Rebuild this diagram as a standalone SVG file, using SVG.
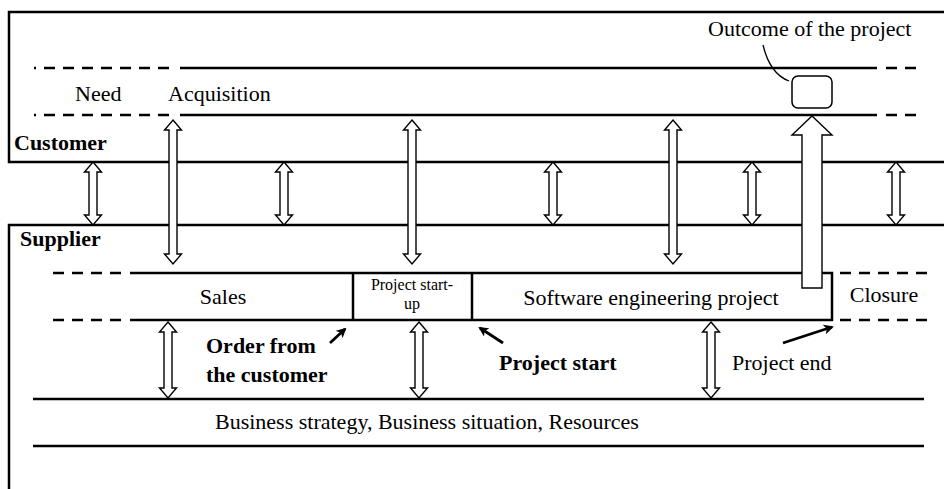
<svg xmlns="http://www.w3.org/2000/svg" width="944" height="489" viewBox="0 0 944 489">
<style>
.ln{stroke:#000;stroke-width:2.5;fill:none}
.ds{stroke:#000;stroke-width:2.5;fill:none;stroke-dasharray:11 8}
.da{fill:#fff;stroke:#000;stroke-width:1.4}
.t{font-family:"Liberation Serif","Times New Roman",serif;font-size:22px;fill:#000}
.b{font-weight:bold}
.sm{font-size:16px}
.pt{stroke:#000;stroke-width:2.8;fill:none}
</style>
<defs>
<marker id="ah" markerWidth="10" markerHeight="10" refX="8" refY="5" orient="auto" markerUnits="userSpaceOnUse">
<path d="M0,0 L10,5 L0,10 L2.5,5 Z" fill="#000"/>
</marker>
</defs>
<g id="customer">
<path class="ln" d="M946,12 H9 V162 H946"/>
<text class="t b" x="14" y="150">Customer</text>
</g>
<g id="customer-lane">
<path class="ds" d="M34,68 H172 M34,115 H172" stroke-dashoffset="9"/>
<path class="ln" d="M180,68 H877 M180,115 H877"/>
<path class="ds" d="M886,68 H918 M886,115 H918"/>
<text class="t" x="75" y="101">Need</text>
<text class="t" x="168" y="101">Acquisition</text>
</g>
<g id="outcome">
<text class="t" x="708" y="36">Outcome of the project</text>
<path d="M763,45 Q770,74 789,81" stroke="#000" stroke-width="1.3" fill="none"/>
<rect x="792" y="76" width="40" height="32" rx="6" fill="#fff" stroke="#000" stroke-width="1.5"/>
</g>
<g id="supplier">
<path class="ln" d="M946,225 H9 V491"/>
<text class="t b" x="20" y="246">Supplier</text>
</g>
<g id="phases">
<path class="ds" d="M53,273 H123 M53,320 H123"/>
<path class="ln" d="M130,273 H832 V320 H130 M353,273 V320 M472,273 V320"/>
<path class="ds" d="M840,273 H928 M840,320 H928"/>
<text class="t" x="223" y="304" text-anchor="middle">Sales</text>
<text class="t sm" x="412" y="290" text-anchor="middle">Project start-</text>
<text class="t sm" x="412" y="309" text-anchor="middle">up</text>
<text class="t" x="651" y="305" text-anchor="middle">Software engineering project</text>
<text class="t" x="884" y="302" text-anchor="middle">Closure</text>
</g>
<g id="business">
<path class="ln" d="M33,399 H924 M33,446 H924"/>
<text class="t" x="215" y="429">Business strategy, Business situation, Resources</text>
</g>
<g id="events">
<text class="t b" x="206" y="353">Order from</text>
<text class="t b" x="206" y="382">the customer</text>
<text class="t b" x="499" y="370">Project start</text>
<text class="t" x="732" y="370">Project end</text>
</g>
<g id="connectors">
<path class="pt" d="M330,343 L345,329" marker-end="url(#ah)"/>
<path class="pt" d="M503,343 L480,328" marker-end="url(#ah)"/>
<path class="pt" d="M783,343 L832,327" marker-end="url(#ah)"/>
<path class="da" d="M93,162 L101.5,172 L97,172 L97,215 L101.5,215 L93,225 L84.5,215 L89,215 L89,172 L84.5,172 Z"/>
<path class="da" d="M284,162 L292.5,172 L288,172 L288,215 L292.5,215 L284,225 L275.5,215 L280,215 L280,172 L275.5,172 Z"/>
<path class="da" d="M553,162 L561.5,172 L557,172 L557,215 L561.5,215 L553,225 L544.5,215 L549,215 L549,172 L544.5,172 Z"/>
<path class="da" d="M752,162 L760.5,172 L756,172 L756,215 L760.5,215 L752,225 L743.5,215 L748,215 L748,172 L743.5,172 Z"/>
<path class="da" d="M896,162 L904.5,172 L900,172 L900,215 L904.5,215 L896,225 L887.5,215 L892,215 L892,172 L887.5,172 Z"/>
<path class="da" d="M173,120 L181.5,130 L177,130 L177,254 L181.5,254 L173,264 L164.5,254 L169,254 L169,130 L164.5,130 Z"/>
<path class="da" d="M412,120 L420.5,130 L416,130 L416,254 L420.5,254 L412,264 L403.5,254 L408,254 L408,130 L403.5,130 Z"/>
<path class="da" d="M673,120 L681.5,130 L677,130 L677,254 L681.5,254 L673,264 L664.5,254 L669,254 L669,130 L664.5,130 Z"/>
<path class="da" d="M168,322 L176.5,332 L172,332 L172,388 L176.5,388 L168,398 L159.5,388 L164,388 L164,332 L159.5,332 Z"/>
<path class="da" d="M419,322 L427.5,332 L423,332 L423,388 L427.5,388 L419,398 L410.5,388 L415,388 L415,332 L410.5,332 Z"/>
<path class="da" d="M711,322 L719.5,332 L715,332 L715,388 L719.5,388 L711,398 L702.5,388 L707,388 L707,332 L702.5,332 Z"/>
<path class="da" d="M812,116 L832,135 L822,135 L822,288 L802,288 L802,135 L792,135 Z" stroke-width="1.6"/>
</g>
</svg>
